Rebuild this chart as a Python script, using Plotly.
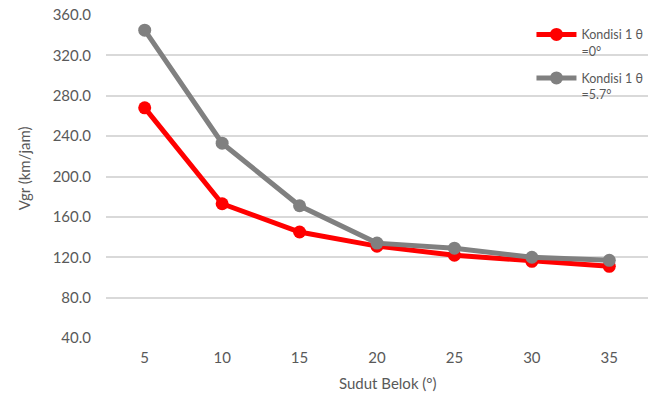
import plotly.graph_objects as go

sudut = [5, 10, 15, 20, 25, 30, 35]
vgr_0 = [268, 173, 145, 131, 122, 116, 111]
vgr_57 = [345, 233, 171, 134, 129, 120, 117]
names = ["Kondisi 1 θ<br>=0°", "Kondisi 1 θ<br>=5.7°"]
yticks = [40, 80, 120, 160, 200, 240, 280, 320, 360]

FONT = "Lato, 'Open Sans', sans-serif"
TXT = "#595959"

fig = go.Figure()
fig.add_trace(go.Scatter(x=sudut, y=vgr_0, name=names[0], mode="lines+markers",
                         legendgroup="a",
                         line=dict(color="#FF0000", width=5),
                         marker=dict(color="#FF0000", size=13)))
fig.add_trace(go.Scatter(x=sudut, y=vgr_57, name=names[1], mode="lines+markers",
                         legendgroup="b",
                         line=dict(color="#808080", width=5),
                         marker=dict(color="#808080", size=13)))

fig.update_layout(
    width=667, height=401,
    margin=dict(l=106, r=19, t=15, b=63),
    paper_bgcolor="white", plot_bgcolor="white",
    font=dict(family=FONT, size=15, color=TXT),
    legend=dict(x=0.785, y=0.985, xanchor="left", yanchor="top",
                bgcolor="rgba(0,0,0,0)", font=dict(size=12.5, color=TXT),
                valign="top", tracegroupgap=8, itemwidth=40),
    xaxis=dict(range=[2.5, 37.5], tickvals=sudut, showgrid=False, zeroline=False,
               showline=False, ticks="", ticklabelstandoff=9, automargin=False),
    yaxis=dict(range=[40, 360], tickvals=yticks, tickformat=".1f",
               showgrid=True, gridcolor="#d9d9d9", gridwidth=1.5, zeroline=False,
               showline=False, ticks="", ticklabelstandoff=14, automargin=False),
    annotations=[
        dict(text="Sudut Belok (°)", xref="paper", yref="paper", x=0.52, y=-0.14,
             xanchor="center", yanchor="middle", showarrow=False,
             font=dict(size=15, color=TXT)),
        dict(text="Vgr (km/jam)", xref="paper", yref="paper", x=-0.15, y=0.525,
             xanchor="center", yanchor="middle", showarrow=False, textangle=-90,
             font=dict(size=15, color=TXT)),
    ],
)
fig.write_html("out.html", config={"displayModeBar": False},
               post_script="document.body.style.margin='0';")
